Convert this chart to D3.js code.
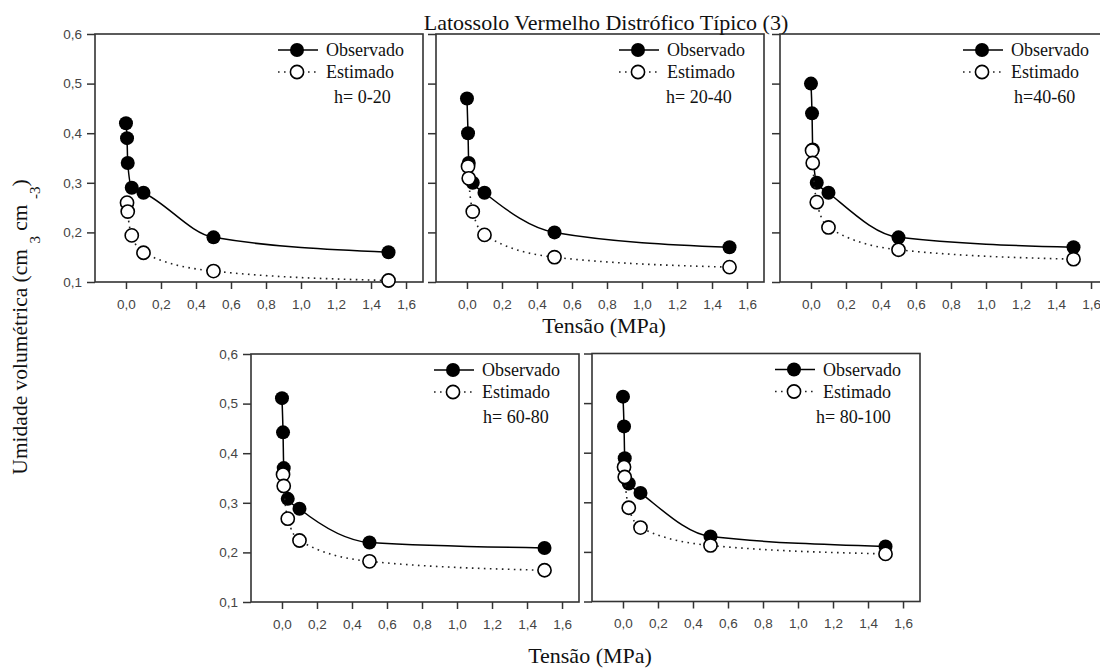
<!DOCTYPE html>
<html>
<head>
<meta charset="utf-8">
<script src="https://cdn.jsdelivr.net/npm/d3@7"></script>
<style>
  body { margin: 0; background: #fff; }
  svg { display: block; }
</style>
</head>
<body>
<div id="chart"></div>
<script>
// values
var titulo = "Latossolo Vermelho Distrófico Típico (3)";
var xTicks = [0, 0.2, 0.4, 0.6, 0.8, 1.0, 1.2, 1.4, 1.6];
var yTicks = [0.1, 0.2, 0.3, 0.4, 0.5, 0.6];
var camadas = ["h= 0-20", "h= 20-40", "h=40-60", "h= 60-80", "h= 80-100"];
var tensaoObs = [0, 0.006, 0.01, 0.033, 0.1, 0.5, 1.5];
var tensaoEst = [0.006, 0.01, 0.033, 0.1, 0.5, 1.5];
var observado = [
  [0.42, 0.39, 0.34, 0.29, 0.28, 0.19, 0.16],
  [0.47, 0.40, 0.34, 0.30, 0.28, 0.20, 0.17],
  [0.50, 0.44, 0.367, 0.30, 0.28, 0.19, 0.17],
  [0.511, 0.442, 0.37, 0.308, 0.288, 0.22, 0.209],
  [0.513, 0.453, 0.389, 0.338, 0.319, 0.231, 0.211]
];
var estimado = [
  [0.26, 0.242, 0.194, 0.159, 0.122, 0.103],
  [0.333, 0.309, 0.242, 0.195, 0.15, 0.13],
  [0.365, 0.34, 0.261, 0.21, 0.165, 0.146],
  [0.357, 0.334, 0.268, 0.224, 0.182, 0.164],
  [0.371, 0.351, 0.289, 0.249, 0.213, 0.196]
];

// panel placement
var painel = [
  {x: 95,  y: 34,    hx: 239, ylab: true},
  {x: 436, y: 34,    hx: 230, ylab: false},
  {x: 780, y: 34,    hx: 234, ylab: false},
  {x: 251, y: 354,   hx: 232, ylab: true},
  {x: 592, y: 353.5, hx: 224, ylab: false}
];
var W = 328, H = 248;
var serif = "'Liberation Serif', 'Times New Roman', serif";
var sans = "'Liberation Sans', Arial, sans-serif";

var svg = d3.select("#chart").append("svg")
    .attr("width", 1100)
    .attr("height", 671);

var x = d3.scaleLinear().domain([-0.177, 1.697]).range([0, W]);
var y = d3.scaleLinear().domain([0.1, 0.6]).range([H, 0]);
var virgula = function(d) { return d3.format(".1f")(d).replace(".", ","); };

var linha = d3.line()
    .x(function(d) { return x(d[0]); })
    .y(function(d) { return y(d[1]); })
    .curve(d3.curveMonotoneX);

painel.forEach(function(p, i) {
  var g = svg.append("g").attr("transform", "translate(" + p.x + "," + p.y + ")");

  var obs = tensaoObs.map(function(t, k) { return [t, observado[i][k]]; });
  var est = tensaoEst.map(function(t, k) { return [t, estimado[i][k]]; });

  // axes
  var ax = g.append("g")
      .attr("transform", "translate(0," + H + ")")
      .call(d3.axisBottom(x).tickValues(xTicks).tickSize(7).tickPadding(10).tickFormat(virgula));
  var ay = g.append("g")
      .call(d3.axisLeft(y).tickValues(yTicks).tickSize(8).tickPadding(5).tickFormat(virgula));
  if (!p.ylab) ay.selectAll("text").remove();
  [ax, ay].forEach(function(a) {
    a.select(".domain").remove();
    a.selectAll("line").attr("stroke", "#333").attr("stroke-width", 1.5);
    a.selectAll("text").attr("fill", "#444").style("font-family", sans).style("font-size", "13.5px");
  });

  g.append("rect")
      .attr("width", W).attr("height", H)
      .attr("fill", "none").attr("stroke", "#333").attr("stroke-width", 1.6);

  // curves
  g.append("path").datum(obs)
      .attr("d", linha).attr("fill", "none")
      .attr("stroke", "#000").attr("stroke-width", 1.5);
  g.selectAll(".obs").data(obs).enter().append("circle")
      .attr("class", "obs")
      .attr("cx", function(d) { return x(d[0]); })
      .attr("cy", function(d) { return y(d[1]); })
      .attr("r", 7).attr("fill", "#000");

  g.append("path").datum(est)
      .attr("d", linha).attr("fill", "none")
      .attr("stroke", "#222").attr("stroke-width", 1.6)
      .attr("stroke-dasharray", "1.6,4.4");
  g.selectAll(".est").data(est).enter().append("circle")
      .attr("class", "est")
      .attr("cx", function(d) { return x(d[0]); })
      .attr("cy", function(d) { return y(d[1]); })
      .attr("r", 6.6).attr("fill", "#fff")
      .attr("stroke", "#000").attr("stroke-width", 1.6);

  // legend
  var leg = g.append("g");
  leg.append("line").attr("x1", 183).attr("x2", 223).attr("y1", 16).attr("y2", 16)
      .attr("stroke", "#000").attr("stroke-width", 1.5);
  leg.append("circle").attr("cx", 202).attr("cy", 16).attr("r", 7).attr("fill", "#000");
  leg.append("line").attr("x1", 183).attr("x2", 223).attr("y1", 38).attr("y2", 38)
      .attr("stroke", "#222").attr("stroke-width", 1.6).attr("stroke-dasharray", "1.6,4.4");
  leg.append("circle").attr("cx", 202).attr("cy", 38).attr("r", 6.6).attr("fill", "#fff")
      .attr("stroke", "#000").attr("stroke-width", 1.6);
  leg.selectAll("text.lg").data(["Observado", "Estimado"]).enter().append("text")
      .attr("x", 231).attr("y", function(d, k) { return 22 + k * 22; })
      .style("font-family", serif).style("font-size", "18px").attr("fill", "#111")
      .text(function(d) { return d; });
  leg.append("text")
      .attr("x", p.hx).attr("y", 69)
      .style("font-family", serif).style("font-size", "18px").attr("fill", "#111")
      .text(camadas[i]);
});

// titles
svg.append("text")
    .attr("x", 606).attr("y", 30).attr("text-anchor", "middle")
    .style("font-family", serif).style("font-size", "22px").attr("fill", "#111")
    .text(titulo);

svg.append("text")
    .attr("x", 604).attr("y", 333).attr("text-anchor", "middle")
    .style("font-family", serif).style("font-size", "22px").attr("fill", "#111")
    .text("Tensão (MPa)");
svg.append("text")
    .attr("x", 590).attr("y", 663).attr("text-anchor", "middle")
    .style("font-family", serif).style("font-size", "22px").attr("fill", "#111")
    .text("Tensão (MPa)");

var yl = svg.append("text")
    .attr("transform", "translate(27,327) rotate(-90)")
    .attr("text-anchor", "middle")
    .style("font-family", serif).style("font-size", "21.5px").attr("fill", "#111");
yl.append("tspan").text("Umidade volumétrica (cm ");
yl.append("tspan").attr("dy", 13).style("font-size", "15px").text("3");
yl.append("tspan").attr("dy", -13).text(" cm ");
yl.append("tspan").attr("dy", 13).style("font-size", "15px").text("-3");
yl.append("tspan").attr("dy", -13).text(")");
</script>
</body>
</html>
